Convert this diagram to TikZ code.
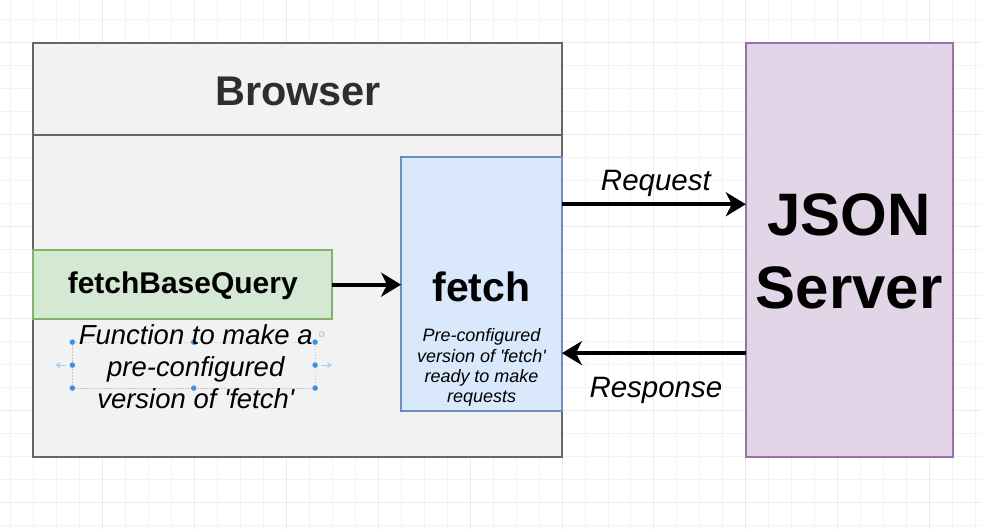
\documentclass[tikz,border=0pt]{standalone}
\usepackage{fontspec}
\setmainfont{Liberation Sans}
% plain family without TeX ligature mapping, so ' stays a straight quote
\newfontfamily\labelfont{Liberation Sans}
\usetikzlibrary{arrows.meta}
\definecolor{gridminor}{HTML}{F3F3F3}
\definecolor{gridmajor}{HTML}{EBEBEB}
\definecolor{panelfill}{HTML}{F2F2F2}
\definecolor{panelline}{HTML}{666666}
\definecolor{greenfill}{HTML}{D5E8D4}
\definecolor{greenline}{HTML}{82B366}
\definecolor{bluefill}{HTML}{DAE8FC}
\definecolor{blueline}{HTML}{6C8EBF}
\definecolor{purplefill}{HTML}{E1D5E7}
\definecolor{purpleline}{HTML}{9673A6}
\definecolor{handle}{HTML}{3D8FE0}
\definecolor{handlefaint}{HTML}{A9CDF0}
\tikzset{
  box/.style={draw, line width=1.8pt, inner sep=0pt, outer sep=0pt},
  flow/.style={line width=4pt, -{Stealth[length=20pt,width=24pt,inset=6pt]}},
  flowlabel/.style={font=\labelfont\itshape\fontsize{29.5}{34}\selectfont, inner sep=0pt},
  grip/.style={circle, fill=handle, inner sep=0pt, minimum size=5.5pt},
}
\begin{document}
\begin{tikzpicture}[x=1pt,y=-1pt]
  % canvas and grid
  \fill[white] (0,0) rectangle (981,529);
  \foreach \gx in {10,33,...,981} \draw[gridminor, line width=0.8pt] (\gx,0) -- (\gx,529);
  \foreach \gy in {19.3,42.3,...,529} \draw[gridminor, line width=0.8pt] (0,\gy) -- (981,\gy);
  \foreach \gx in {102,194,...,981} \draw[gridmajor, line width=0.8pt] (\gx,0) -- (\gx,529);
  \foreach \gy in {42.3,134.3,...,529} \draw[gridmajor, line width=0.8pt] (0,\gy) -- (981,\gy);
  \useasboundingbox (0,0) rectangle (981,529);

  % browser container
  \node[box, draw=panelline, fill=panelfill, minimum width=529pt, minimum height=414pt, anchor=north west] (browser) at (33,43) {};
  \draw[panelline, line width=1.8pt] (33,135) -- (562,135);
  \node[font=\labelfont\bfseries\fontsize{41.5}{46}\selectfont, text=black!82] (browsertitle) at (298,91) {Browser};

  % fetchBaseQuery
  \node[box, draw=greenline, fill=greenfill, minimum width=299pt, minimum height=69pt, anchor=north west] (fbq) at (33,250) {};
  \node[font=\labelfont\bfseries\fontsize{30}{34}\selectfont] (fbqtext) at (182.5,286) {fetchBaseQuery};

  % selection frame around the description
  \draw[gray!45, line width=0.5pt, dash pattern=on 1.5pt off 1.5pt] (72,342) rectangle (315,388);
  \foreach \hx/\hy [count=\i] in {72/342,193.5/342,315/342,72/365,315/365,72/388,193.5/388,315/388}
    \node[grip] (grip\i) at (\hx,\hy) {};
  \draw[handlefaint, line width=1pt, -{Stealth[length=5pt,width=6pt]}] (66,365) -- (55,365);
  \draw[handlefaint, line width=1pt, -{Stealth[length=5pt,width=6pt]}] (321,365) -- (332,365);
  \draw[handlefaint, line width=1pt] (321.5,334) circle (2.5pt);

  \node[font=\labelfont\itshape\fontsize{27.5}{32}\selectfont, align=center, inner sep=0pt] (fbqdesc) at (195.5,367)
    {Function to make a\\pre-configured\\version of 'fetch'};

  % fetch
  \node[box, draw=blueline, fill=bluefill, minimum width=161pt, minimum height=254pt, anchor=north west] (fetch) at (401,157) {};
  \node[font=\labelfont\bfseries\fontsize{41}{46}\selectfont] (fetchtitle) at (481.5,287) {fetch};
  \node[font=\labelfont\itshape\fontsize{18}{20.4}\selectfont, align=center, inner sep=0pt] (fetchdesc) at (481.5,367.5)
    {Pre-configured\\version of 'fetch'\\ready to make\\requests};

  % server
  \node[box, draw=purpleline, fill=purplefill, minimum width=207pt, minimum height=414pt, anchor=north west] (server) at (746,43) {};
  \node[font=\labelfont\bfseries\fontsize{60}{73}\selectfont, align=center, inner sep=0pt] (servertext) at (849.5,251) {JSON\\Server};

  % connectors
  \coordinate (reqA) at (562,204);
  \coordinate (reqB) at (746,204);
  \coordinate (resA) at (746,353);
  \coordinate (resB) at (562,353);
  \draw[flow] (fbq.east) -- (fetch.west |- fbq.east);
  \draw[flow] (reqA) -- (reqB);
  \draw[flow] (resA) -- (resB);
  \node[flowlabel] (reqlabel) at (656,183) {Request};
  \node[flowlabel] (reslabel) at (656,390) {Response};
\end{tikzpicture}
\end{document}
